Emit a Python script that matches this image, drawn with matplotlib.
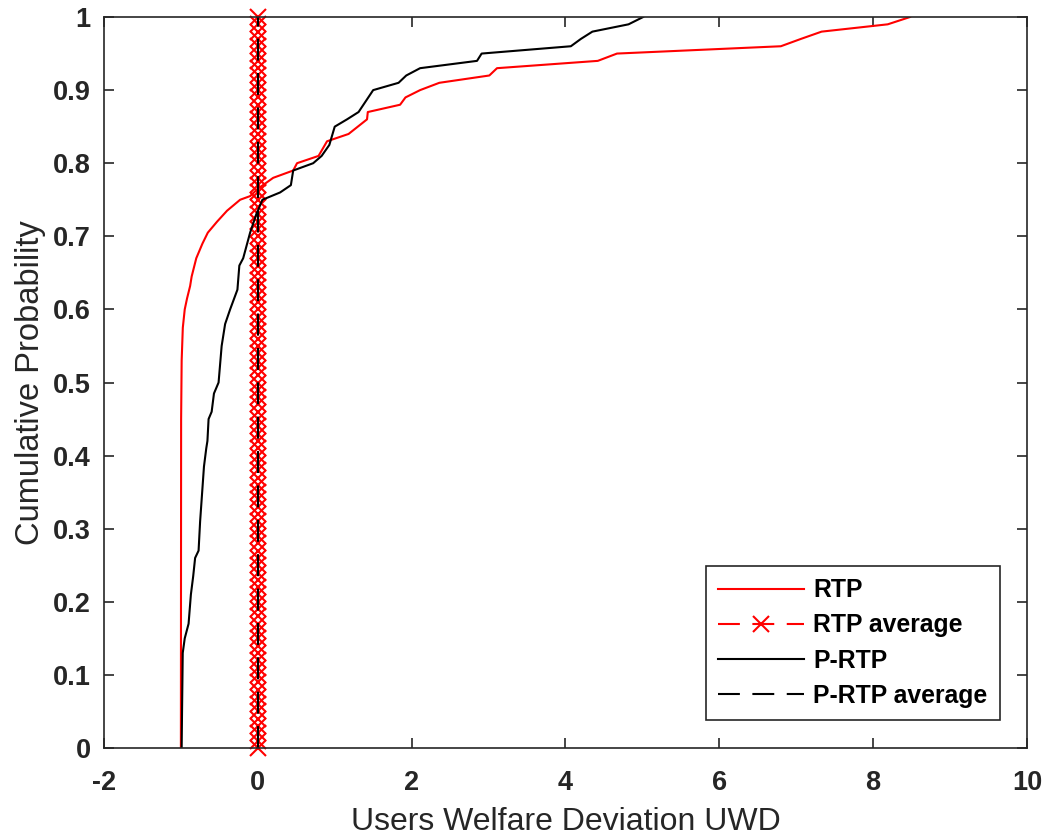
import matplotlib.pyplot as plt
import numpy as np

plt.rcParams['font.family'] = ['Liberation Sans', 'DejaVu Sans']
plt.rcParams['axes.unicode_minus'] = False

rtp_x = [-1.0, -0.997, -0.99, -0.975, -0.95, -0.92, -0.88, -0.86, -0.80, -0.72,
         -0.65, -0.53, -0.40, -0.23, -0.10, 0.0, 0.20, 0.46, 0.51, 0.79,
         0.90, 1.18, 1.42, 1.43, 1.85, 1.92, 2.11, 2.36, 3.01, 3.11,
         4.42, 4.67, 6.80, 7.06, 7.33, 8.19, 8.48]
rtp_y = [0.0, 0.45, 0.53, 0.575, 0.60, 0.615, 0.632, 0.645, 0.67, 0.69,
         0.705, 0.72, 0.735, 0.75, 0.755, 0.765, 0.78, 0.79, 0.80, 0.81,
         0.83, 0.84, 0.86, 0.87, 0.88, 0.89, 0.90, 0.91, 0.92, 0.93,
         0.94, 0.95, 0.96, 0.97, 0.98, 0.99, 1.0]

prtp_x = [-0.99, -0.985, -0.976, -0.95, -0.90, -0.87, -0.84, -0.815, -0.77, -0.75,
          -0.73, -0.70, -0.67, -0.655, -0.64, -0.60, -0.57, -0.51, -0.47, -0.425,
          -0.36, -0.265, -0.24, -0.19, -0.10, -0.02, 0.06, 0.29, 0.43, 0.46,
          0.72, 0.83, 0.93, 1.0, 1.16, 1.31, 1.50, 1.83, 1.93, 2.11,
          2.85, 2.91, 4.07, 4.20, 4.35, 4.82, 5.01]
prtp_y = [0.0, 0.05, 0.13, 0.15, 0.17, 0.21, 0.235, 0.26, 0.27, 0.31,
          0.34, 0.385, 0.41, 0.42, 0.45, 0.46, 0.485, 0.50, 0.55, 0.58,
          0.60, 0.627, 0.66, 0.67, 0.705, 0.73, 0.75, 0.76, 0.77, 0.79,
          0.80, 0.81, 0.825, 0.85, 0.86, 0.87, 0.90, 0.91, 0.92, 0.93,
          0.94, 0.95, 0.96, 0.97, 0.98, 0.99, 1.0]

rtp_avg = 0.0
prtp_avg = 0.0
avg_y = np.linspace(0, 1, 101)

fig = plt.figure(figsize=(10.46, 8.38), dpi=100)
ax = fig.add_axes([0.0994, 0.1074, 0.8824, 0.8723])

dash = (0, (10.5, 6.0))
ax.plot(rtp_x, rtp_y, color='red', lw=1.5, label='RTP')
ax.plot(np.full_like(avg_y, rtp_avg), avg_y, color='red', lw=1.5, linestyle=dash,
        marker='x', markersize=11, markeredgewidth=1.5, clip_on=False,
        label='RTP average')
ax.plot(prtp_x, prtp_y, color='black', lw=1.5, label='P-RTP')
ax.plot([prtp_avg, prtp_avg], [0, 1], color='black', lw=1.5, linestyle=dash,
        label='P-RTP average')

ax.set_xlim(-2, 10)
ax.set_ylim(0, 1)
ax.set_xticks(np.arange(-2, 11, 2))
ax.set_yticks(np.arange(0, 1.01, 0.1))
ax.set_yticklabels(['0'] + ['%.1f' % v for v in np.arange(0.1, 0.95, 0.1)] + ['1'])

ax.tick_params(direction='in', length=7.5, width=1.2, color='#262626',
               top=True, right=True, labelsize=19.5, labelcolor='#262626')
ax.tick_params(axis='x', pad=16)
ax.tick_params(axis='y', pad=9.5)
for lab in ax.get_xticklabels() + ax.get_yticklabels():
    lab.set_fontweight('bold')
for sp in ax.spines.values():
    sp.set_color('#262626')
    sp.set_linewidth(1.2)

ax.set_xlabel('Users Welfare Deviation UWD', fontsize=23, color='#262626', labelpad=8)
ax.set_ylabel('Cumulative Probability', fontsize=23.5, color='#262626', labelpad=5)

leg = ax.legend(loc='lower right', bbox_to_anchor=(0.9707, 0.0383),
                prop={'size': 17.8, 'weight': 'bold'}, handlelength=3.5,
                fancybox=False, framealpha=1, edgecolor='#262626',
                borderpad=0.5, labelspacing=0.45, handletextpad=0.36, borderaxespad=0)
leg.get_frame().set_linewidth(1.2)

fig.savefig('out.png', dpi=100)
